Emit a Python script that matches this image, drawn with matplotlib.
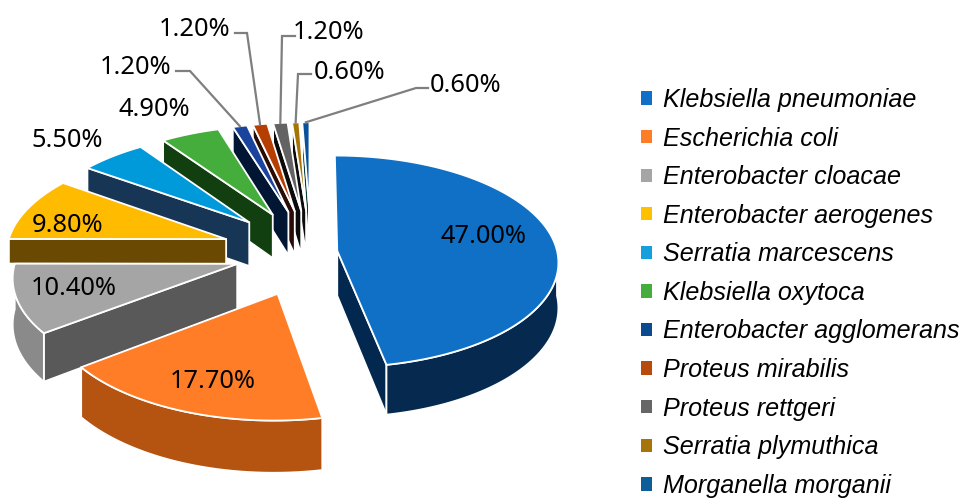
import numpy as np
import matplotlib
matplotlib.use("Agg")
import matplotlib.pyplot as plt
from matplotlib.patches import Polygon, Patch

species = ["Klebsiella pneumoniae", "Escherichia coli", "Enterobacter cloacae",
           "Enterobacter aerogenes", "Serratia marcescens", "Klebsiella oxytoca",
           "Enterobacter agglomerans", "Proteus mirabilis", "Proteus rettgeri",
           "Serratia plymuthica", "Morganella morganii"]
percent = [47.0, 17.7, 10.4, 9.8, 5.5, 4.9, 1.2, 1.2, 1.2, 0.6, 0.6]

top_colors = ["#0F70C6", "#FF7D26", "#A5A5A5", "#FFBB00", "#0099DA", "#45AD3B",
              "#1A439E", "#B63E02", "#636363", "#A67404", "#0A519B"]
cut_colors = ["#02284F", "#B55411", "#595959", "#6A4A03", "#173656", "#123F0F",
              "#001633", "#2B0B05", "#0B0B0B", "#0C0C0C", "#0C3A3D"]
arc_colors = ["#05294F", "#B55411", "#8A8A8A", "#6A4A03", "#173656", "#123F0F",
              "#001633", "#2B0B05", "#0B0B0B", "#0C0C0C", "#0C3A3D"]
legend_colors = ["#1070C8", "#FF7D26", "#A5A5A5", "#FFC000", "#159FDC", "#45AD3B",
                 "#0B4A8F", "#B74A0D", "#666666", "#A5740A", "#0D5D99"]
explode = [0.12, 0.41, 0.35, 0.41, 0.41, 0.41, 0.41, 0.41, 0.41, 0.41, 0.41]
slice_depth = [45, 45, 45, 25, 45, 45, 45, 45, 45, 45, 45]

# label centres, in the pixel space of the figure
label_xy = [(484, 236), (213, 381), (74, 288), (68, 225), (67, 140), (154, 109),
            (136, 67), (195, 29), (329, 32), (350, 72), (466, 85)]
# leader elbows for the small slices (text end, elbow)
leader_pts = {6: [(176, 71), (190, 71)], 7: [(235, 33), (247, 33)],
              8: [(295, 36), (282, 36)], 9: [(311, 74), (298, 74)],
              10: [(428, 88), (416, 88)]}

OX, OY, RA, RB, K = 311.0, 252.0, 220.0, 105.0, 0.10

fig = plt.figure(figsize=(9.62, 4.98), dpi=100)
ax = fig.add_axes([0, 0, 1, 1])
ax.set_xlim(0, 962)
ax.set_ylim(498, 0)
ax.axis("off")


def project(u, v, drop=0.0):
    s = 1.0 / (1.0 - K * v)
    return OX + RA * u * s, OY + RB * v * s + drop * s


def slice_points(t, cu, cv, drop=0.0):
    t = np.radians(t)
    return np.column_stack(project(cu + np.sin(t), cv - np.cos(t), drop))


scale = 360.0 / sum(percent)
stops = np.concatenate([[0], np.cumsum(percent)]) * scale
slices = []
for i in range(len(percent)):
    t0, t1 = stops[i], stops[i + 1]
    mid = np.radians((t0 + t1) / 2)
    slices.append((i, t0, t1, explode[i] * np.sin(mid), -explode[i] * np.cos(mid)))
slices.sort(key=lambda r: r[4])

EDGE = dict(edgecolor="white", linewidth=1.3, joinstyle="round")
anchors = {}
for i, t0, t1, cu, cv in slices:
    depth = slice_depth[i]
    ts = np.linspace(t0, t1, max(int(t1 - t0) * 2, 4))
    centre = np.array(project(cu, cv))
    centre_low = np.array(project(cu, cv, depth))

    # the two cut faces, where they face the viewer
    for t, visible in ((t0, np.sin(np.radians(t0)) < 0), (t1, np.sin(np.radians(t1)) > 0)):
        if visible:
            a = slice_points(np.array([t]), cu, cv)[0]
            b = slice_points(np.array([t]), cu, cv, depth)[0]
            ax.add_patch(Polygon([centre, a, b, centre_low], facecolor=cut_colors[i],
                                 zorder=len(anchors) * 3 + 1, **EDGE))
    # outer rim, the part turned to the viewer
    lo, hi = max(t0, 90), min(t1, 270)
    if hi > lo:
        tr = np.linspace(lo, hi, 120)
        rim = np.vstack([slice_points(tr, cu, cv), slice_points(tr, cu, cv, depth)[::-1]])
        ax.add_patch(Polygon(rim, facecolor=arc_colors[i],
                             zorder=len(anchors) * 3 + 1, **EDGE))
    # top face
    ax.add_patch(Polygon(np.vstack([centre, slice_points(ts, cu, cv)]),
                         facecolor=top_colors[i], zorder=len(anchors) * 3 + 2, **EDGE))
    anchors[i] = slice_points(np.array([(t0 + t1) / 2]), cu, cv)[0]

for i, pts in leader_pts.items():
    xy = np.array(pts + [tuple(anchors[i])])
    ax.plot(xy[:, 0], xy[:, 1], color="#7F7F7F", lw=1.6, zorder=60, solid_joinstyle="miter")

for value, (x, y) in zip(percent, label_xy):
    ax.text(x, y, f"{value:.2f}%", ha="center", va="center", color="black",
            family="Noto Sans", fontsize=18.3, zorder=70)

handles = [Patch(facecolor=c, edgecolor="none") for c in legend_colors]
leg = ax.legend(handles, species, loc="upper left", bbox_to_anchor=(641 / 962, 1 - 88 / 498),
                bbox_transform=fig.transFigure, frameon=False,
                prop=dict(family="Liberation Sans", style="italic", size=18.1),
                handlelength=0.44, handleheight=0.44, handletextpad=0.44,
                labelspacing=0.58, borderpad=0, borderaxespad=0)
leg.set_zorder(80)

fig.savefig("out.png", dpi=100)
